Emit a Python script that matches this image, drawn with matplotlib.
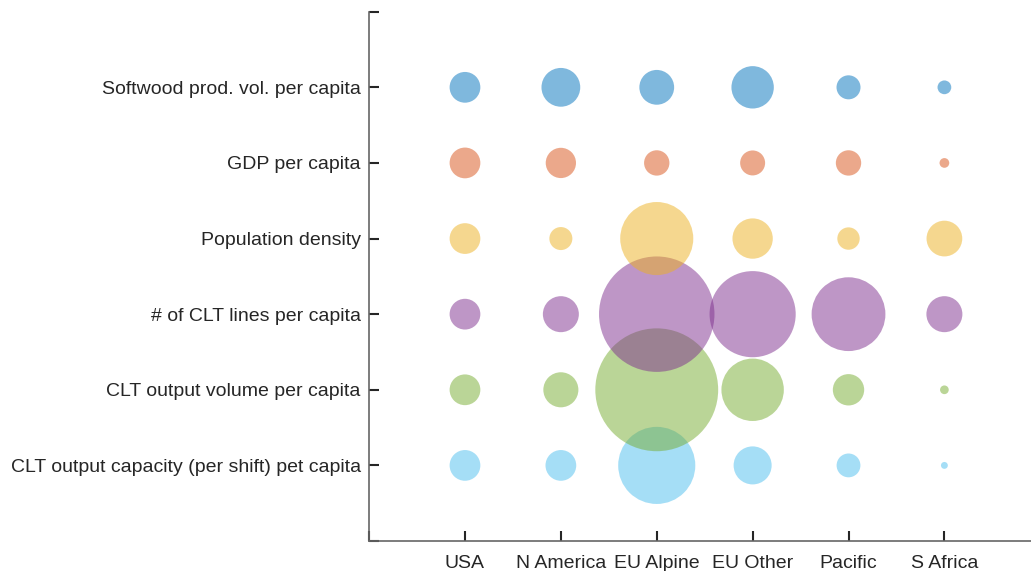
import numpy as np
import matplotlib.pyplot as plt

plt.rcParams['font.family'] = ['Liberation Sans', 'DejaVu Sans']

regions = ['USA', 'N America', 'EU Alpine', 'EU Other', 'Pacific', 'S Africa']
metrics = ['CLT output capacity (per shift) pet capita',
           'CLT output volume per capita',
           '# of CLT lines per capita',
           'Population density',
           'GDP per capita',
           'Softwood prod. vol. per capita']

# values relative to USA (= 1), bottom row first
capacity = [1.0, 1.0, 6.29, 1.53, 0.60, 0.05]
volume = [1.0, 1.30, 15.97, 4.12, 1.04, 0.08]
clt_lines = [1.0, 1.37, 14.1, 7.85, 5.76, 1.37]
population = [1.0, 0.56, 5.65, 1.72, 0.53, 1.35]
gdp = [1.0, 0.97, 0.68, 0.66, 0.68, 0.10]
softwood = [1.0, 1.59, 1.28, 1.90, 0.61, 0.20]

rows = [capacity, volume, clt_lines, population, gdp, softwood]
colors = ['#4DBEEE', '#77AC30', '#7E2F8E', '#EDB120', '#D95319', '#0072BD']

fig = plt.figure(figsize=(10.31, 5.71), dpi=100)
ax = fig.add_axes([0.358, 0.0525, 0.651, 0.927])

base = 490
for i, vals in enumerate(rows):
	x = np.arange(1, len(regions) + 1)
	y = np.full(len(regions), i + 1)
	ax.scatter(x, y, s=np.array(vals) * base, marker='o', color=colors[i],
		alpha=0.5, linewidths=0)

ax.set_xlim(0, 7)
ax.set_ylim(0, 7)
ax.set_xticks(range(0, 8))
ax.set_xticklabels([''] + regions + [''])
ax.set_yticks(range(0, 8))
ax.set_yticklabels([''] + metrics + [''])

for s in ['top', 'right']:
	ax.spines[s].set_visible(False)
for s in ['left', 'bottom']:
	ax.spines[s].set_color('#666666')
	ax.spines[s].set_linewidth(1.2)
ax.tick_params(direction='in', length=7, width=1.5, color='#262626',
	labelcolor='#262626', labelsize=14)
ax.tick_params(axis='y', pad=6)
ax.tick_params(axis='x', pad=10)

fig.savefig('out.png', dpi=100)
